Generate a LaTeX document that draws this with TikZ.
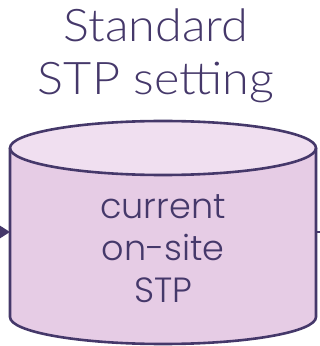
\documentclass[tikz,border=0pt]{standalone}
\usepackage{fontspec}
\setmainfont{Lato Light}[FakeStretch=1.08]
\newfontfamily\tankfont{Poppins Light}
\usepackage{tikz}
\usetikzlibrary{arrows.meta}

\definecolor{inkpurple}{HTML}{45386A}
\definecolor{bodyfill}{HTML}{E6CCE5}
\definecolor{lidfill}{HTML}{F0DFF0}

\tikzset{
  outline/.style={draw=inkpurple, line width=2.6pt},
  label/.style={text=inkpurple, align=center, inner sep=0pt},
}

\begin{document}
\begin{tikzpicture}[x=1pt,y=1pt]
    \useasboundingbox (0,0) rectangle (320,346);

    % Heading (base = last line)
    \node[label, font=\fontsize{45}{53}\selectfont, anchor=base] (title) at (156,251) {Standard\\STP setting};

    % Tank body
    \coordinate (tl) at (10,198);
    \coordinate (bl) at (10,29);
    \coordinate (br) at (316,29);
    \coordinate (tr) at (316,198);
    \fill[bodyfill] (tl) -- (bl) arc[start angle=180, end angle=360, x radius=153, y radius=27] -- (tr) -- cycle;
    \filldraw[outline, fill=lidfill] (163,198) ellipse[x radius=153, y radius=27];
    \draw[outline] (tl) -- (bl) arc[start angle=180, end angle=360, x radius=153, y radius=27] -- (tr);

    % Tank text
    \node[label, font=\tankfont\fontsize{35}{42.5}\selectfont, anchor=base] (stp) at (163,43) {current\\on-site\\STP};

    % Flow in and out
    \coordinate (in) at (-20,114);
    \coordinate (out) at (340,114);
    \draw[inkpurple, line width=2.6pt, -{Triangle[length=10pt,width=12pt]}] (in) -- (bl |- in);
    \draw[inkpurple, line width=2.6pt] (br |- out) -- (out);
\end{tikzpicture}
\end{document}
